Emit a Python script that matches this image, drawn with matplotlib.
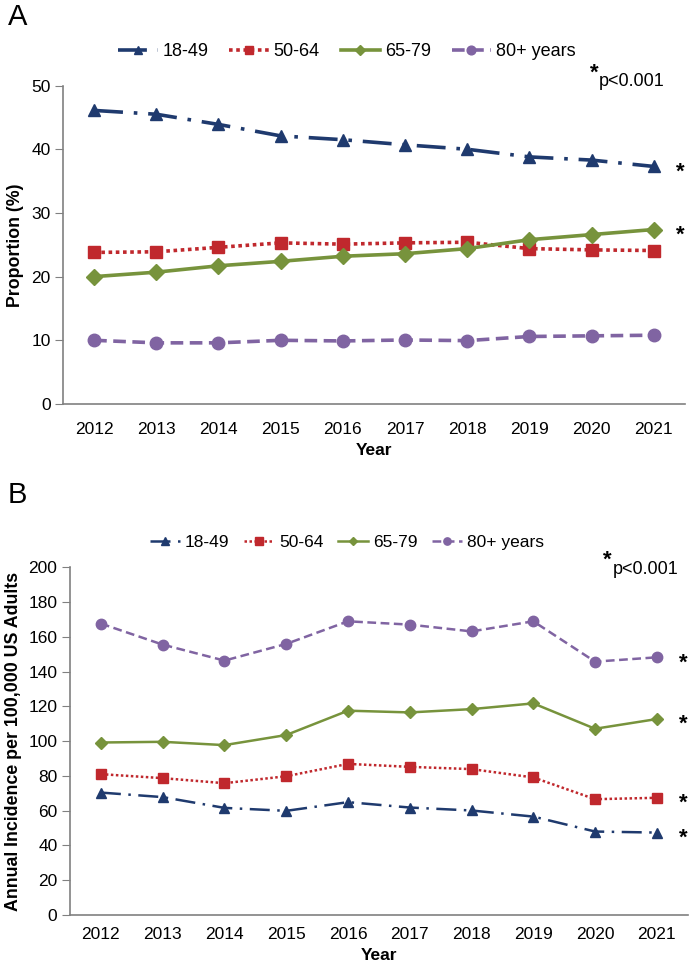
import matplotlib
matplotlib.use('Agg')
import matplotlib.pyplot as plt

plt.rcParams['font.family'] = ['Liberation Sans', 'DejaVu Sans']

years = ['2012', '2013', '2014', '2015', '2016', '2017', '2018', '2019', '2020', '2021']
groups = ['18-49', '50-64', '65-79', '80+ years']

# panel A: proportion (%)
prop_18_49 = [46.1, 45.5, 43.9, 42.1, 41.5, 40.7, 40.0, 38.8, 38.3, 37.3]
prop_50_64 = [23.8, 23.9, 24.6, 25.3, 25.1, 25.3, 25.4, 24.4, 24.2, 24.1]
prop_65_79 = [20.0, 20.7, 21.7, 22.4, 23.2, 23.6, 24.4, 25.8, 26.6, 27.4]
prop_80 = [10.0, 9.6, 9.6, 10.0, 9.9, 10.05, 9.95, 10.6, 10.7, 10.8]

# panel B: annual incidence per 100,000
inc_18_49 = [70.4, 67.8, 61.6, 59.9, 64.9, 61.8, 60.1, 56.6, 48.0, 47.4]
inc_50_64 = [81.0, 78.7, 75.8, 79.8, 86.9, 85.2, 83.9, 79.1, 66.6, 67.4]
inc_65_79 = [99.2, 99.6, 97.7, 103.5, 117.5, 116.5, 118.4, 121.7, 107.1, 112.7]
inc_80 = [167.6, 155.5, 146.3, 155.9, 168.9, 167.0, 163.1, 168.9, 145.7, 148.2]

colors = ['#1F3A6E', '#C0282D', '#77933C', '#8064A2']
markers = ['^', 's', 'D', 'o']
styles = [(0, (8, 3, 1, 3)), (0, (1, 1)), '-', (0, (3.5, 1.8))]

fig = plt.figure(figsize=(6.91, 9.66), dpi=100)
axA = fig.add_axes([0.0912, 0.5818, 0.900, 0.3296])
axB = fig.add_axes([0.1013, 0.0528, 0.894, 0.360])


def draw(ax, series, lw, ms, ylim, ystep, ylabel, stars, xpad, pstar, legend_y,
         legend_fs, hlen, cspace):
    x = list(range(len(years)))
    handles = []
    for vals, c, m, ls, g in zip(series, colors, markers, styles, groups):
        msz = ms * (0.85 if m == 'D' else 1.0)
        h, = ax.plot(x, vals, color=c, marker=m, linestyle=ls, linewidth=lw,
                     markersize=msz, markeredgecolor=c, label=g)
        handles.append(h)
    ax.set_xlim(-0.5, len(years) - 0.5)
    ax.set_ylim(*ylim)
    ax.set_yticks(range(ylim[0], ylim[1] + 1, ystep))
    ax.set_xticks(x)
    ax.set_xticklabels(years)
    for s in ['top', 'right']:
        ax.spines[s].set_visible(False)
    for s in ['left', 'bottom']:
        ax.spines[s].set_color('#808080')
        ax.spines[s].set_linewidth(1.2)
    ax.tick_params(axis='x', length=0, labelsize=12.5, pad=xpad)
    ax.tick_params(axis='y', length=6, color='#808080', labelsize=12.5, pad=3)
    ax.set_xlabel('Year', fontsize=12.5, fontweight='bold', labelpad=4)
    ax.set_ylabel(ylabel, fontsize=12.8, fontweight='bold', labelpad=5)
    for idx in stars:
        ax.annotate('*', (len(years) - 1, series[idx][-1]), xytext=(19, -4),
                    textcoords='offset points', ha='center', va='center',
                    fontsize=16, fontweight='bold')
    ax.text(pstar[0], pstar[1], '*', transform=ax.transAxes, fontsize=16,
            fontweight='bold', ha='center', va='center')
    ax.text(pstar[0] + 0.008, pstar[1] - 0.027, 'p<0.001', transform=ax.transAxes,
            fontsize=13, ha='left', va='center')
    fig.legend(handles=handles, loc='center', bbox_to_anchor=(0.502, legend_y),
               ncol=4, frameon=False, fontsize=legend_fs, handlelength=hlen,
               handletextpad=0.25, columnspacing=cspace, markerscale=0.7)


draw(axA, [prop_18_49, prop_50_64, prop_65_79, prop_80], 2.6, 9,
     (0, 50), 10, 'Proportion (%)', [0, 2], 13, (0.854, 1.04),
     1 - 52 / 966, 13, 2.2, 1.15)
draw(axB, [inc_18_49, inc_50_64, inc_65_79, inc_80], 1.8, 7.5,
     (0, 200), 20, 'Annual Incidence per 100,000 US Adults', [0, 1, 2, 3], 9,
     (0.87, 1.02), 1 - 542 / 966, 12.5, 1.75, 0.85)

fig.text(0.011, 0.997, 'A', fontsize=21, ha='left', va='top')
fig.text(0.011, 0.502, 'B', fontsize=21, ha='left', va='top')

fig.savefig('out.png', dpi=100)
